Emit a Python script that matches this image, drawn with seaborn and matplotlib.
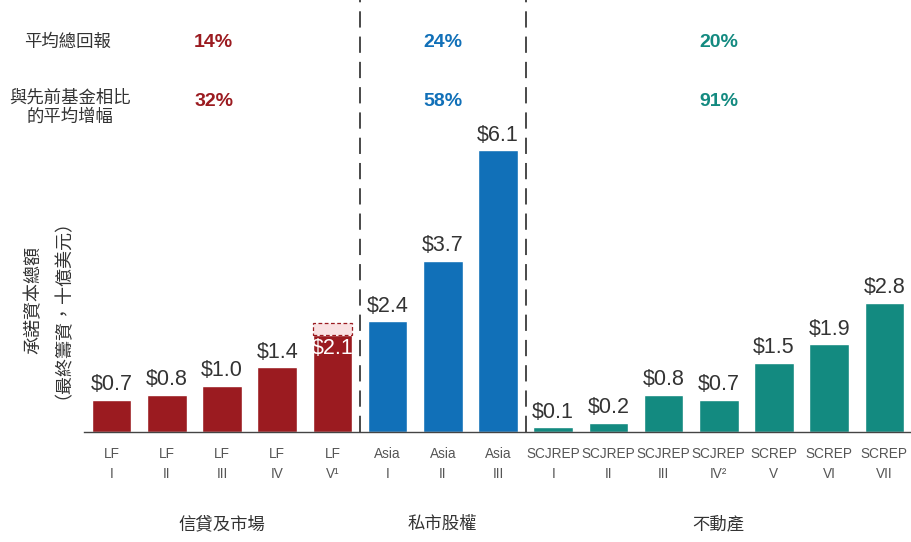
import matplotlib
matplotlib.use("Agg")
import matplotlib.pyplot as plt
import seaborn as sns
import pandas as pd

sns.set_theme(style="white")
FONT = ['Liberation Sans', 'Noto Sans CJK TC', 'DejaVu Sans']
plt.rcParams['font.family'] = FONT

funds = ["LF\nI", "LF\nII", "LF\nIII", "LF\nIV", "LF\nV¹",
         "Asia\nI", "Asia\nII", "Asia\nIII",
         "SCJREP\nI", "SCJREP\nII", "SCJREP\nIII", "SCJREP\nIV²",
         "SCREP\nV", "SCREP\nVI", "SCREP\nVII"]
values = [0.7, 0.8, 1.0, 1.4, 2.1, 2.4, 3.7, 6.1, 0.1, 0.2, 0.8, 0.7, 1.5, 1.9, 2.8]
groups = ["信貸及市場"] * 5 + ["私市股權"] * 3 + ["不動產"] * 7
lf5_target = 2.35
group_names = ["信貸及市場", "私市股權", "不動產"]
avg_return = ["14%", "24%", "20%"]
avg_increase = ["32%", "58%", "91%"]
row_labels = ["平均總回報", "與先前基金相比\n的平均增幅"]
ylabel = "承諾資本總額\n（最終籌資，十億美元）"

colors = {"信貸及市場": "#9B1B20", "私市股權": "#1170B8", "不動產": "#138A80"}

df = pd.DataFrame({"fund": funds, "value": values, "group": groups})

fig = plt.figure(figsize=(9.12, 5.42), dpi=100)
ax = fig.add_axes([84 / 912, 110 / 542, 828 / 912, 432 / 542])

sns.barplot(data=df, x="fund", y="value", hue="group", palette=colors,
            dodge=False, width=0.72, legend=False, ax=ax, saturation=1)

# LF V target extension
ax.bar(4, lf5_target - values[4], bottom=values[4], width=0.72,
       facecolor="#F9E1E2", edgecolor="#9B1B20", linestyle=(0, (3, 2)), linewidth=0.9)

ax.set_xlim(-0.5, len(funds) - 0.5)
ax.set_ylim(0, 432 / 46.2)

for i, v in enumerate(values):
    if i == 4:
        ax.text(i, v - 0.06, f"${v:.1f}", ha="center", va="top", color="white", fontsize=15.5)
    else:
        ax.text(i, v + 0.1, f"${v:.1f}", ha="center", va="bottom", color="#333333", fontsize=15.5)

for s in ["top", "right", "left"]:
    ax.spines[s].set_visible(False)
ax.spines["bottom"].set_color("#444444")
ax.spines["bottom"].set_linewidth(1.0)
ax.set_yticks([])
ax.set_xlabel("")
ax.set_ylabel("")
ax.tick_params(axis="x", length=0, pad=11, labelsize=9.8, labelcolor="#555555")
for lbl in ax.get_xticklabels():
    lbl.set_linespacing(1.55)

for xsep in [4.5, 7.5]:
    ax.axvline(xsep, ymin=0, ymax=1, color="#3a3a3a", linestyle=(0, (9, 5)), linewidth=1.3)

# group annotations
centers = [1.85, 6, 11]
for c, g, r, inc in zip(centers, group_names, avg_return, avg_increase):
    col = colors[g]
    xd = ax.transData.transform((c, 0))[0] / 912
    fig.text(xd, 1 - 42 / 542, r, ha="center", va="center", color=col, fontsize=14, fontweight="bold")
    fig.text(xd, 1 - 101 / 542, inc, ha="center", va="center", color=col, fontsize=14, fontweight="bold")

for c, g in zip([2, 6, 11], group_names):
    xd = ax.transData.transform((c, 0))[0] / 912
    fig.text(xd, 1 - 524 / 542, g, ha="center", va="center", color="#333333", fontsize=12.5)

fig.text(68 / 912, 1 - 42 / 542, row_labels[0], ha="center", va="center", color="#333333", fontsize=12.5)
fig.text(70 / 912, 1 - 107 / 542, row_labels[1], ha="center", va="center", color="#333333",
         fontsize=12.5, linespacing=1.25)

fig.text(44 / 912, 1 - 300 / 542, ylabel, ha="center", va="center", rotation=90,
         color="#333333", fontsize=13, linespacing=1.15)

fig.savefig("out.png", dpi=100)
